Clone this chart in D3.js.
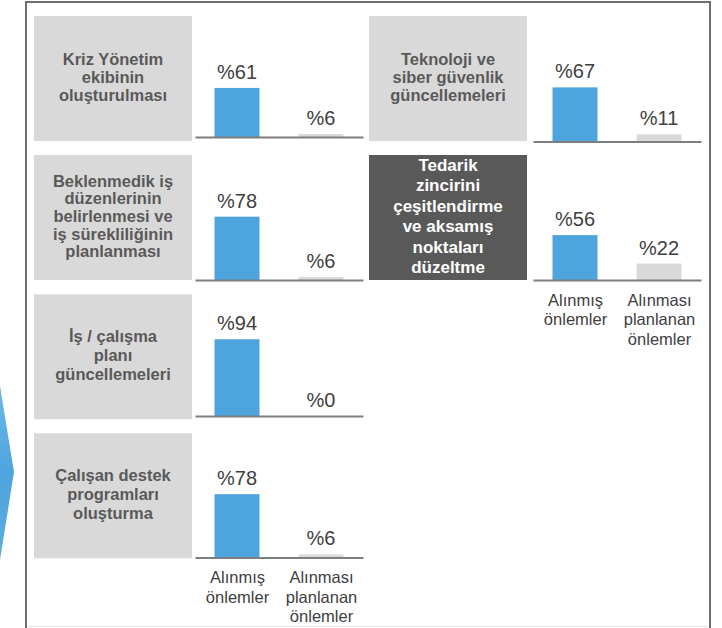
<!DOCTYPE html>
<html><head><meta charset="utf-8">
<script src="https://cdn.jsdelivr.net/npm/d3@7"></script>
<style>body{margin:0;background:#fff}svg{display:block}</style>
</head><body>
<svg id="c" width="722" height="628"></svg>
<script>
// ---- data ----
const categories = [
  ["Kriz Yönetim","ekibinin","oluşturulması"],
  ["Beklenmedik iş","düzenlerinin","belirlenmesi ve","iş sürekliliğinin","planlanması"],
  ["İş / çalışma","planı","güncellemeleri"],
  ["Çalışan destek","programları","oluşturma"],
  ["Teknoloji ve","siber güvenlik","güncellemeleri"],
  ["Tedarik","zincirini","çeşitlendirme","ve aksamış","noktaları","düzeltme"]
];
const takenValues   = [61, 78, 94, 78, 67, 56];
const plannedValues = [6, 6, 0, 6, 11, 22];
const seriesLabels  = [["Alınmış","önlemler"],["Alınması","planlanan","önlemler"]];
const valuePrefix = "%";
const highlighted = 5;
const axisLabelPanels = [3, 5];

// ---- layout ----
const panelCol = [0,0,0,0,1,1];
const panelRow = [0,1,2,3,0,1];
const boxX = [34, 369];
const chartX = [195, 533];
const boxTop = [[16,155,294.3,433.3],[16,155]];
const baseY = [[137,280,416,557.5],[141.5,280]];
const lineH = [18.4,17.7,19,19,18.4,20.4];
const chartW = 168, boxW = 158, boxH = 125, barW = 45;
const font = "'Liberation Sans', Arial, sans-serif";
const blue = "#4ea4dc", lightGrey = "#d9d9d9", darkGrey = "#595959";

const svg = d3.select("#c");

// chevron on the left
const defs = svg.append("defs");
const grad = defs.append("linearGradient").attr("id","gb")
  .attr("x1",0).attr("y1",0).attr("x2",0).attr("y2",1);
grad.append("stop").attr("offset",0).attr("stop-color","#6cb9e8");
grad.append("stop").attr("offset",0.5).attr("stop-color","#4ea4dc");
grad.append("stop").attr("offset",1).attr("stop-color","#5aaee2");
svg.append("path").attr("d", d3.line()([[0,386],[14,472],[0,560]]) + "Z")
  .attr("fill","url(#gb)");

// frame
svg.append("line").attr("x1",27).attr("x2",709).attr("y1",626.5).attr("y2",626.5)
  .attr("stroke","#e6e6e6").attr("stroke-width",1);
svg.append("path").attr("d","M26,628V2H710V628")
  .attr("fill","none").attr("stroke","#6f6f6f").attr("stroke-width",2);

categories.forEach((lines, i) => {
  const c = panelCol[i], r = panelRow[i];
  const top = boxTop[c][r], b = baseY[c][r];
  const g = svg.append("g");

  // category box
  const isHi = i === highlighted;
  g.append("rect").attr("x", boxX[c]).attr("y", top).attr("width", boxW).attr("height", boxH)
    .attr("fill", isHi ? darkGrey : lightGrey);
  const cx = boxX[c] + boxW/2, cy = top + boxH/2;
  const lh = lineH[i];
  const first = cy - (lines.length-1)/2*lh + 4.5;
  const t = g.append("text").attr("text-anchor","middle")
    .attr("font-family", font).attr("font-weight","bold").attr("font-size", isHi ? 17 : 16.5)
    .attr("fill", isHi ? "#ffffff" : darkGrey);
  lines.forEach((l,k) => t.append("tspan").attr("x", cx).attr("y", first + k*lh).text(l));

  // scales
  const x = d3.scalePoint().domain([0,1]).range([chartX[c], chartX[c]+chartW]).padding(0.5);
  const y = d3.scaleLinear().domain([0,100]).range([b+2, b+2-83.75]);
  const vals = [takenValues[i], plannedValues[i]];

  g.selectAll("rect.bar").data(vals).join("rect").attr("class","bar")
    .attr("x", (d,j) => x(j) - barW/2)
    .attr("y", d => Math.min(y(d), b))
    .attr("width", barW)
    .attr("height", d => Math.max(0, b - y(d)))
    .attr("fill", (d,j) => j === 0 ? blue : lightGrey);

  g.selectAll("text.val").data(vals).join("text").attr("class","val")
    .attr("x", (d,j) => x(j))
    .attr("y", d => Math.min(y(d), b) - 9)
    .attr("text-anchor","middle").attr("font-family", font).attr("font-size", 20)
    .attr("fill","#404040").text(d => valuePrefix + d);

  // axis
  const showLabels = axisLabelPanels.includes(i);
  const ax = g.append("g").attr("transform", `translate(0,${b})`)
    .call(d3.axisBottom(x).tickSize(0).tickSizeOuter(0).tickFormat(() => ""));
  ax.select(".domain").attr("stroke","#7f7f7f").attr("stroke-width",2);
  ax.selectAll(".tick text").each(function(j){
    const tx = d3.select(this).text(null).attr("y", null).attr("dy", null)
      .attr("font-family", font).attr("font-size", 16.5).attr("fill","#404040");
    if (!showLabels) return;
    seriesLabels[j].forEach((l,k) => tx.append("tspan").attr("x",0).attr("y", 25.5 + k*19.5).text(l));
  });
});
</script>
</body></html>
